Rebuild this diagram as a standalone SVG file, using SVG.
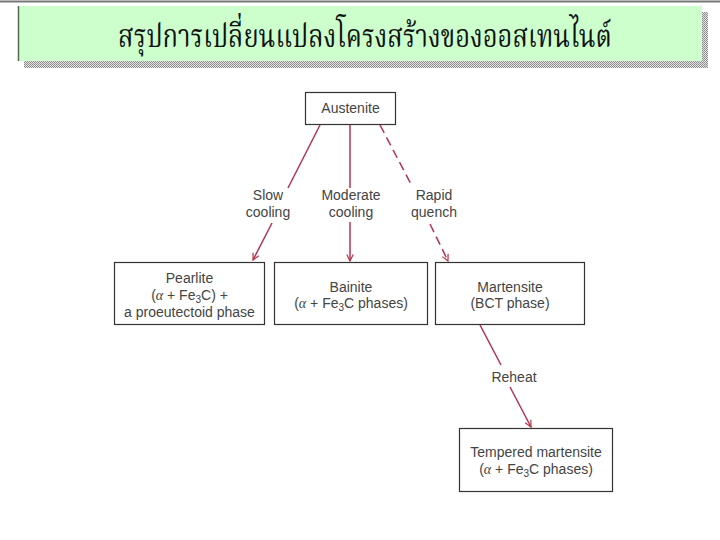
<svg xmlns="http://www.w3.org/2000/svg" width="720" height="540" viewBox="0 0 720 540">
<style>
.box{fill:#fff;stroke:#333;stroke-width:1.2}
.lbl{font-family:"Liberation Sans",Arial,sans-serif;font-size:14px;fill:#444;text-anchor:middle}
.arr{fill:none;stroke:#b3344f;stroke-width:1.5}
.dash{stroke-dasharray:9,5}
.title{font-family:"Noto Serif Thai","Noto Sans Thai Looped","Noto Sans Thai","DejaVu Sans",sans-serif;font-size:28px;fill:#111;text-anchor:middle}
</style>
<defs>
<pattern id="dots" width="2" height="2" patternUnits="userSpaceOnUse">
<rect width="2" height="2" fill="#e0e0e0"/>
<rect width="1" height="1" fill="#888"/>
<rect x="1" y="1" width="1" height="1" fill="#999"/>
</pattern>
<marker id="ah" viewBox="0 0 10 10" refX="9" refY="5" markerWidth="8" markerHeight="8" orient="auto" markerUnits="userSpaceOnUse">
<path d="M1,1 L9,5 L1,9" fill="none" stroke="#b3344f" stroke-width="1.5"/>
</marker>
</defs>
<rect width="720" height="540" fill="#fff"/>
<line x1="0" y1="1.5" x2="720" y2="1.5" stroke="#777" stroke-width="2"/>
<g id="header">
<rect x="24" y="12" width="684" height="56" fill="url(#dots)"/>
<rect x="18" y="6" width="684" height="55" fill="#ccffcc"/>
<line x1="18.5" y1="6" x2="18.5" y2="61" stroke="#556655" stroke-width="1.5"/>
<text class="title" transform="translate(365,47) scale(0.91,1.15)" x="0" y="0">สรุปการเปลี่ยนแปลงโครงสร้างของออสเทนไนต์</text>
</g>
<g id="connectors">
<line class="arr" x1="320" y1="125" x2="288" y2="188"/>
<line class="arr" x1="272" y1="223" x2="253" y2="260" marker-end="url(#ah)"/>
<line class="arr" x1="350" y1="125" x2="350" y2="188"/>
<line class="arr" x1="350" y1="222" x2="350" y2="261" marker-end="url(#ah)"/>
<line class="arr dash" x1="380" y1="125" x2="412" y2="186"/>
<line class="arr dash" x1="430" y1="224" x2="448" y2="261" marker-end="url(#ah)"/>
<line class="arr" x1="480" y1="325" x2="501" y2="365"/>
<line class="arr" x1="510" y1="387" x2="531" y2="427" marker-end="url(#ah)"/>
<text class="lbl" x="268" y="200">Slow</text>
<text class="lbl" x="268" y="217">cooling</text>
<text class="lbl" x="351" y="200">Moderate</text>
<text class="lbl" x="351" y="217">cooling</text>
<text class="lbl" x="434" y="200">Rapid</text>
<text class="lbl" x="434" y="217">quench</text>
<text class="lbl" x="514" y="382">Reheat</text>
</g>
<g id="austenite">
<rect class="box" x="305.5" y="92.5" width="90" height="32"/>
<text class="lbl" x="350.5" y="113">Austenite</text>
</g>
<g id="pearlite">
<rect class="box" x="114.5" y="262.5" width="150" height="62"/>
<text class="lbl" x="189.5" y="283">Pearlite</text>
<text class="lbl" x="189.5" y="300">(<tspan font-style="italic" font-family="Liberation Serif,serif">α</tspan> + Fe<tspan font-size="10" dy="3">3</tspan><tspan dy="-3">C) +</tspan></text>
<text class="lbl" x="189.5" y="317">a proeutectoid phase</text>
</g>
<g id="bainite">
<rect class="box" x="274.5" y="262.5" width="153" height="62"/>
<text class="lbl" x="351" y="292">Bainite</text>
<text class="lbl" x="351" y="308">(<tspan font-style="italic" font-family="Liberation Serif,serif">α</tspan> + Fe<tspan font-size="10" dy="3">3</tspan><tspan dy="-3">C phases)</tspan></text>
</g>
<g id="martensite">
<rect class="box" x="435.5" y="262.5" width="149" height="62"/>
<text class="lbl" x="510" y="292">Martensite</text>
<text class="lbl" x="510" y="308">(BCT phase)</text>
</g>
<g id="tempered">
<rect class="box" x="459.5" y="428.5" width="153" height="63"/>
<text class="lbl" x="536" y="457">Tempered martensite</text>
<text class="lbl" x="536" y="474">(<tspan font-style="italic" font-family="Liberation Serif,serif">α</tspan> + Fe<tspan font-size="10" dy="3">3</tspan><tspan dy="-3">C phases)</tspan></text>
</g>
</svg>
